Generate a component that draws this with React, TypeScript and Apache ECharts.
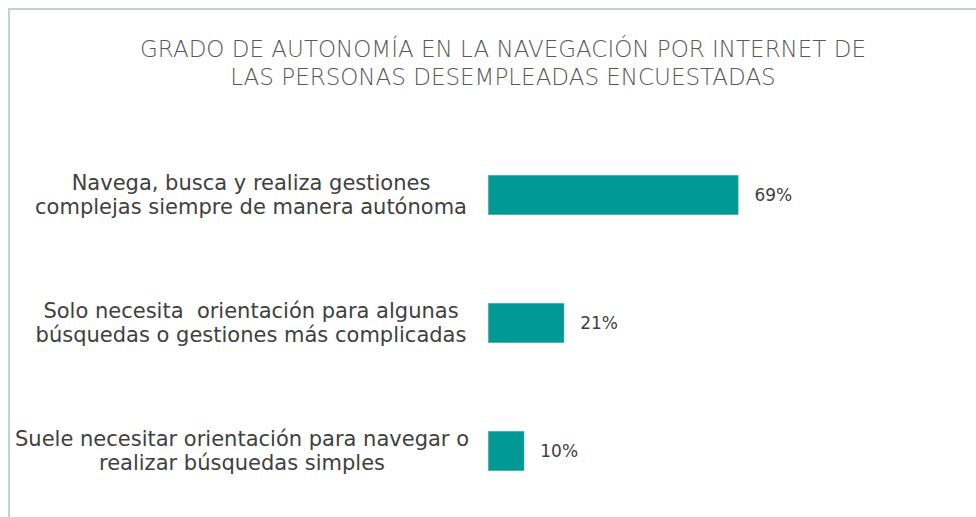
import React, { useEffect, useRef } from "react";
import * as echarts from "echarts";

const titleLines = [
  "GRADO DE AUTONOMÍA EN LA NAVEGACIÓN POR INTERNET DE",
  "LAS PERSONAS DESEMPLEADAS ENCUESTADAS",
];
const categories = [
  "Navega, busca y realiza gestiones\ncomplejas siempre de manera autónoma",
  "Solo necesita  orientación para algunas\nbúsquedas o gestiones más complicadas",
  "Suele necesitar orientación para navegar o\nrealizar búsquedas simples",
];
const values = [69, 21, 10];

export default function App() {
  const ref = useRef<HTMLDivElement>(null);
  useEffect(() => {
    if (!ref.current) return;
    const chart = echarts.init(ref.current, undefined, { renderer: "svg" });
    chart.setOption({
      animation: false,
      backgroundColor: "#ffffff",
      title: {
        text: titleLines.join("\n"),
        left: 498,
        top: 30,
        textAlign: "center",
        textStyle: {
          fontFamily: "DejaVu Sans",
          fontWeight: 200,
          fontSize: 23,
          lineHeight: 28,
          color: "#595959",
        },
      },
      graphic: [
        {
          type: "polyline",
          shape: { points: [[9, 517], [9, 9], [976, 9]] },
          style: { stroke: "#c4cedd", lineWidth: 2, fill: "none" },
          silent: true,
        },
      ],
      grid: { left: 488, right: 125, top: 131, bottom: 2, containLabel: false },
      xAxis: {
        type: "value",
        min: 0,
        max: 100,
        show: false,
      },
      yAxis: {
        type: "category",
        data: categories,
        inverse: true,
        axisLine: { show: false },
        axisTick: { show: false },
        axisLabel: {
          align: "center",
          margin: 237,
          fontFamily: "DejaVu Sans",
          fontSize: 21,
          lineHeight: 24,
          color: "#404040",
          formatter: (v: string) =>
            v === categories[2]
              ? v.split("\n").map((l) => "{s|" + l + "}").join("\n")
              : v,
          rich: {
            s: {
              fontFamily: "DejaVu Sans",
              fontSize: 21,
              lineHeight: 24,
              color: "#404040",
              padding: [0, 18, 0, 0],
            },
          },
        },
      },
      series: [
        {
          type: "bar",
          data: values,
          barWidth: 40,
          itemStyle: { color: "#009995", borderColor: "#8aa8a8", borderWidth: 0.5 },
          label: {
            show: true,
            position: "right",
            distance: 16,
            formatter: (p: any) => p.value + "%",
            fontFamily: "DejaVu Sans",
            fontSize: 17,
            color: "#404040",
          },
        },
      ],
    });
    return () => chart.dispose();
  }, []);
  return (
    <div
      ref={ref}
      style={{ position: "fixed", left: 0, top: 0, width: 976, height: 517 }}
    />
  );
}
